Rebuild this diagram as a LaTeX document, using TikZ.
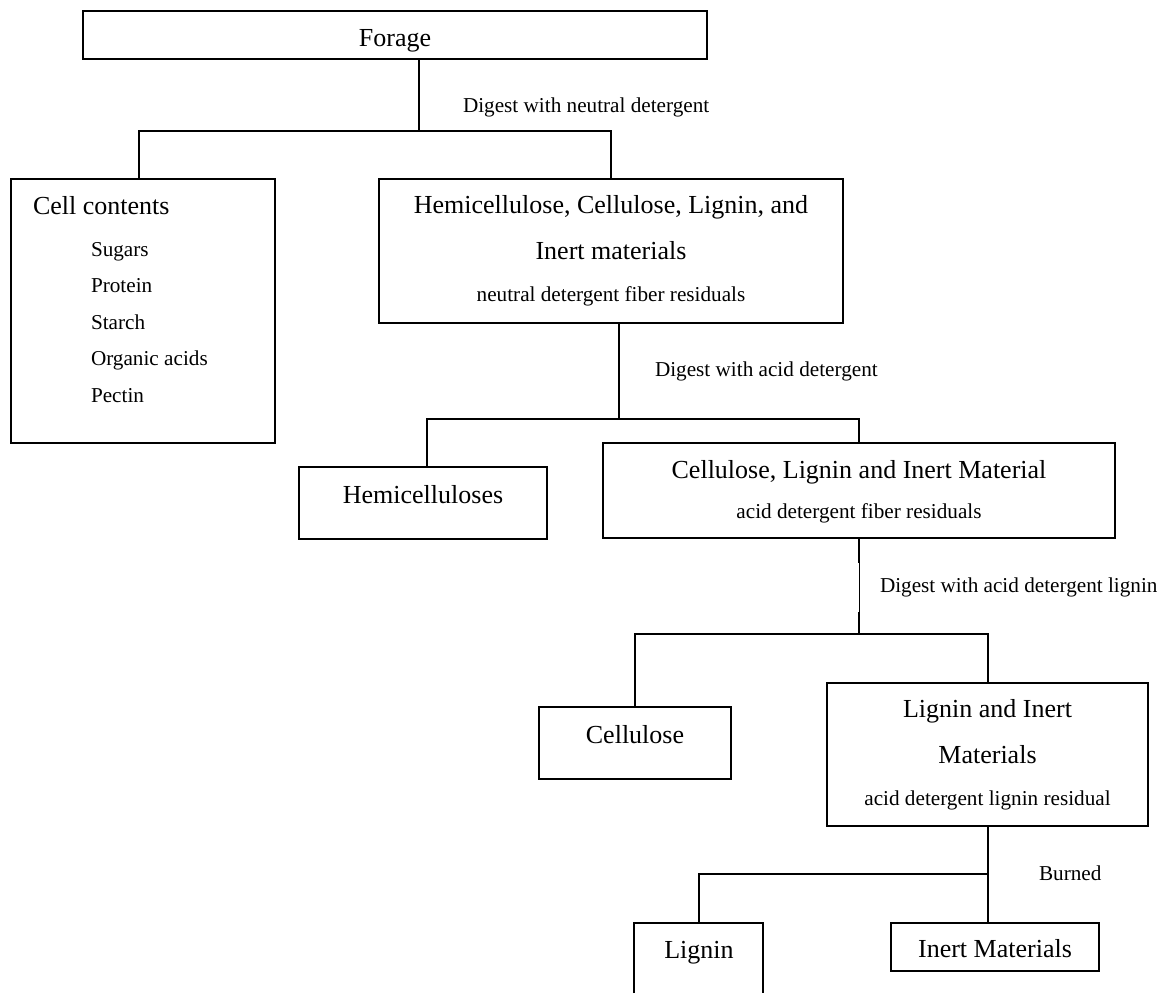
\documentclass[tikz,border=0pt]{standalone}
\usepackage{fontspec}
\setmainfont{Liberation Serif}
\usetikzlibrary{fit}

\begin{document}
\begin{tikzpicture}[x=0.5pt, y=-0.5pt, line width=1pt,
  box/.style={draw, inner sep=0pt},
  big/.style={anchor=base, inner sep=0pt, font=\fontsize{13}{15}\selectfont},
  small/.style={anchor=base, inner sep=0pt, font=\fontsize{10.6}{12}\selectfont}]

  \useasboundingbox (0,0) rectangle (1168,993);

  % boxes
  \node[box, fit={(83,11) (707,59)}] (forage) {};
  \node[box, fit={(11,179) (275,443)}] (cell) {};
  \node[box, fit={(379,179) (843,323)}] (ndf) {};
  \node[box, fit={(299,467) (547,539)}] (hemi) {};
  \node[box, fit={(603,443) (1115,538)}] (adf) {};
  \node[box, fit={(539,707) (731,779)}] (cellu) {};
  \node[box, fit={(827,683) (1148,826)}] (adl) {};
  \node[box, fit={(891,923) (1099,971)}] (inert) {};
  % lignin box runs off the bottom edge
  \coordinate (lig) at (699,923);
  \draw (634,993) |- (763,923) -- (763,993);

  % box texts
  \node[big] (tforage) at (395,46) {Forage};
  \node[big, anchor=base west] (tcell) at (32,214) {Cell contents};
  \foreach \t [count=\i] in {Sugars,Protein,Starch,Organic acids,Pectin}
    \node[small, anchor=base west] (item\i) at (90,{256+36.5*(\i-1)}) {\t};
  \node[big] (tndfa) at (611,213) {Hemicellulose, Cellulose, Lignin, and};
  \node[big] (tndfb) at (611,259) {Inert materials};
  \node[small] (tndfc) at (611,301) {neutral detergent fiber residuals};
  \node[big] (themi) at (423,503) {Hemicelluloses};
  \node[big] (tadfa) at (859,478) {Cellulose, Lignin and Inert Material};
  \node[small] (tadfb) at (859,518) {acid detergent fiber residuals};
  \node[big] (tcellu) at (635,743) {Cellulose};
  \node[big] (tadla) at (987.5,717) {Lignin and Inert};
  \node[big] (tadlb) at (987.5,763) {Materials};
  \node[small] (tadlc) at (987.5,805) {acid detergent lignin residual};
  \node[big] (tlig) at (699,958) {Lignin};
  \node[big] (tinert) at (995,957) {Inert Materials};

  % step labels
  \node[small, anchor=base west] (d1) at (462,112) {Digest with neutral detergent};
  \node[small, anchor=base west] (d2) at (654,376) {Digest with acid detergent};
  \node[small, anchor=base west] (d3) at (879,592) {Digest with acid detergent lignin};
  \node[small, anchor=base west] (d4) at (1038,880) {Burned};

  % connectors
  \coordinate (s1) at (419,131);
  \draw (forage.south -| s1) -- (s1);
  \draw ([xshift=-2pt]cell.north) |- (s1) -| (ndf.north);

  \coordinate (s2) at (619,419);
  \draw (ndf.south -| s2) -- (s2);
  \draw ([xshift=2pt]hemi.north) |- (s2) -| (adf.north);

  \coordinate (s3) at (adf.south |- 0,634);
  \draw (adf.south) -- ++(0,24) coordinate (g1);
  \draw[line width=0.5pt] (g1) -- ++(0,49) coordinate (g2);
  \draw (g2) -- (s3);
  \draw (cellu.north) |- (s3) -| (adl.north);

  \coordinate (s4) at (adl.south |- 0,874);
  \draw (adl.south) -- (s4) -- (inert.north -| s4);
  \draw (lig) |- (s4);

\end{tikzpicture}
\end{document}
